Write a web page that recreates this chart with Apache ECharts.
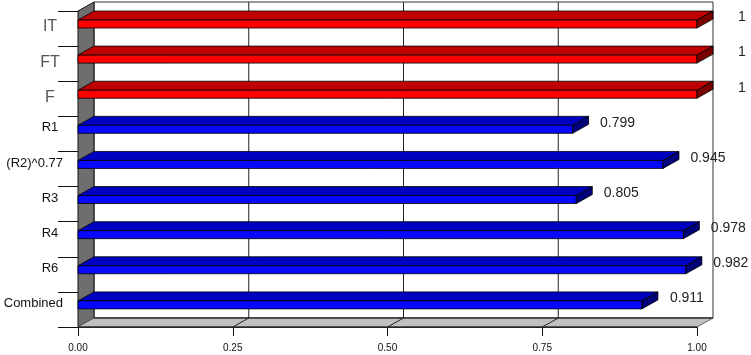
<!DOCTYPE html>
<html><head><meta charset="utf-8">
<script src="https://cdn.jsdelivr.net/npm/echarts@6/dist/echarts.min.js"></script>
<style>html,body{margin:0;padding:0;background:#fff}#c{width:751px;height:355px}</style>
</head><body><div id="c"></div>
<script>
const categories = ['IT', 'FT', 'F', 'R1', '(R2)^0.77', 'R3', 'R4', 'R6', 'Combined'];
const values = [1, 1, 1, 0.799, 0.945, 0.805, 0.978, 0.982, 0.911];
const valueLabels = ['1', '1', '1', '0.799', '0.945', '0.805', '0.978', '0.982', '0.911'];
const colorGroup = ['red', 'red', 'red', 'blue', 'blue', 'blue', 'blue', 'blue', 'blue'];
const xTicks = [0, 0.25, 0.5, 0.75, 1];
const xTickLabels = ['0.00', '0.25', '0.50', '0.75', '1.00'];

const DX = 16, DY = -9, FACE_OFF = 9, FACE_H = 8;
const FONT = '"Liberation Sans", Arial, sans-serif';
const palette = {
  red: { front: '#ff0000', top: '#c00000', side: '#7a0000' },
  blue: { front: '#0808ff', top: '#0000c0', side: '#000078' }
};

function extents(api) {
  const n = categories.length;
  const band = api.size([0, 1])[1];
  const top = api.coord([0, 0])[1] - band / 2;
  const bottom = api.coord([0, n - 1])[1] + band / 2;
  const x0 = api.coord([xTicks[0], 0])[0];
  const x1 = api.coord([xTicks[xTicks.length - 1], 0])[0];
  return { band, top, bottom, x0, x1 };
}

function frameItem(params, api) {
  const e = extents(api);
  const ch = [];
  ch.push({ type: 'rect', shape: { x: e.x0 + DX, y: e.top + DY, width: e.x1 - e.x0, height: e.bottom - e.top },
    style: { fill: '#ffffff', stroke: '#333', lineWidth: 1 } });
  ch.push({ type: 'polygon', shape: { points: [[e.x0, e.top], [e.x0 + DX, e.top + DY], [e.x0 + DX, e.bottom + DY], [e.x0, e.bottom]] },
    style: { fill: '#6e6e6e', stroke: '#111', lineWidth: 1 } });
  ch.push({ type: 'polygon', shape: { points: [[e.x0, e.bottom], [e.x0 + DX, e.bottom + DY], [e.x1 + DX, e.bottom + DY], [e.x1, e.bottom]] },
    style: { fill: '#c0c0c0', stroke: '#666', lineWidth: 1 } });
  ch.push({ type: 'line', shape: { x1: e.x0, y1: e.bottom, x2: e.x1, y2: e.bottom }, style: { stroke: '#111', lineWidth: 1 } });
  ch.push({ type: 'line', shape: { x1: e.x0 + DX, y1: e.bottom + DY, x2: e.x1 + DX, y2: e.bottom + DY }, style: { stroke: '#111', lineWidth: 1 } });
  xTicks.slice(1, xTicks.length - 1).forEach(t => {
    const x = api.coord([t, 0])[0];
    ch.push({ type: 'line', shape: { x1: x + DX, y1: e.top + DY, x2: x + DX, y2: e.bottom + DY }, style: { stroke: '#222', lineWidth: 1 } });
    ch.push({ type: 'line', shape: { x1: x, y1: e.bottom, x2: x + DX, y2: e.bottom + DY }, style: { stroke: '#222', lineWidth: 1 } });
  });
  return { type: 'group', children: ch };
}

function barItem(params, api) {
  const v = api.value(0), i = api.value(1);
  const e = extents(api);
  const c = api.coord([v, i]);
  const xs = api.coord([0, i])[0];
  const xe = c[0];
  const bandTop = c[1] - e.band / 2;
  const ft = bandTop + FACE_OFF;
  const col = palette[colorGroup[i]];
  const st = (fill) => ({ fill: fill, stroke: '#000', lineWidth: 0.8 });
  return {
    type: 'group',
    children: [
      { type: 'polygon', shape: { points: [[xs, ft], [xs + DX, ft + DY], [xe + DX, ft + DY], [xe, ft]] }, style: st(col.top) },
      { type: 'rect', shape: { x: xs, y: ft, width: xe - xs, height: FACE_H }, style: st(col.front) },
      { type: 'polygon', shape: { points: [[xe, ft], [xe + DX, ft + DY], [xe + DX, ft + DY + FACE_H], [xe, ft + FACE_H]] }, style: st(col.side) },
      { type: 'text', style: { text: valueLabels[i], x: xe + DX + 29, y: bandTop + 6.5, align: 'center', verticalAlign: 'middle',
          textAlign: 'center', textVerticalAlign: 'middle', fontSize: 14, fontFamily: FONT, fill: '#222' } }
    ]
  };
}

const chart = echarts.init(document.getElementById('c'), null, { renderer: 'canvas' });
chart.setOption({
  animation: false,
  backgroundColor: '#ffffff',
  grid: { left: 78, right: 54, top: 11, bottom: 28 },
  xAxis: {
    type: 'value', min: 0, max: 1, interval: 0.25,
    axisLine: { show: true, lineStyle: { color: '#111' } },
    axisTick: { show: true, length: 9, lineStyle: { color: '#111' } },
    splitLine: { show: false },
    axisLabel: { margin: 16, fontSize: 10, fontFamily: FONT, color: '#111',
      formatter: (val) => { const k = xTicks.indexOf(val); return k >= 0 ? xTickLabels[k] : ''; } }
  },
  yAxis: {
    type: 'category', data: categories, inverse: true,
    axisLine: { show: true, lineStyle: { color: '#111' } },
    axisTick: { show: true, length: 20, lineStyle: { color: '#111' } },
    splitLine: { show: false },
    axisLabel: {
      margin: 15, align: 'right', fontFamily: FONT,
      formatter: (val, idx) => {
        if (idx < 3) return '{big|' + val + '}';
        if (val.length <= 3) return '{sm|' + val + '}';
        return '{lg|' + val + '}';
      },
      rich: {
        big: { fontSize: 16, color: '#555', width: 26, align: 'center', fontFamily: FONT, padding: [0, 0, 3, 0] },
        sm: { fontSize: 13, color: '#111', width: 26, align: 'center', fontFamily: FONT, padding: [0, 0, 12, 0] },
        lg: { fontSize: 13, color: '#111', align: 'right', fontFamily: FONT, padding: [0, 0, 12, 0] }
      }
    }
  },
  series: [
    { type: 'custom', name: 'frame', z: 1, silent: true, renderItem: frameItem, data: [[0, 0]], clip: false },
    { type: 'custom', name: 'bars', z: 3, renderItem: barItem, data: values.map((v, i) => [v, i]), clip: false }
  ]
});
</script></body></html>
